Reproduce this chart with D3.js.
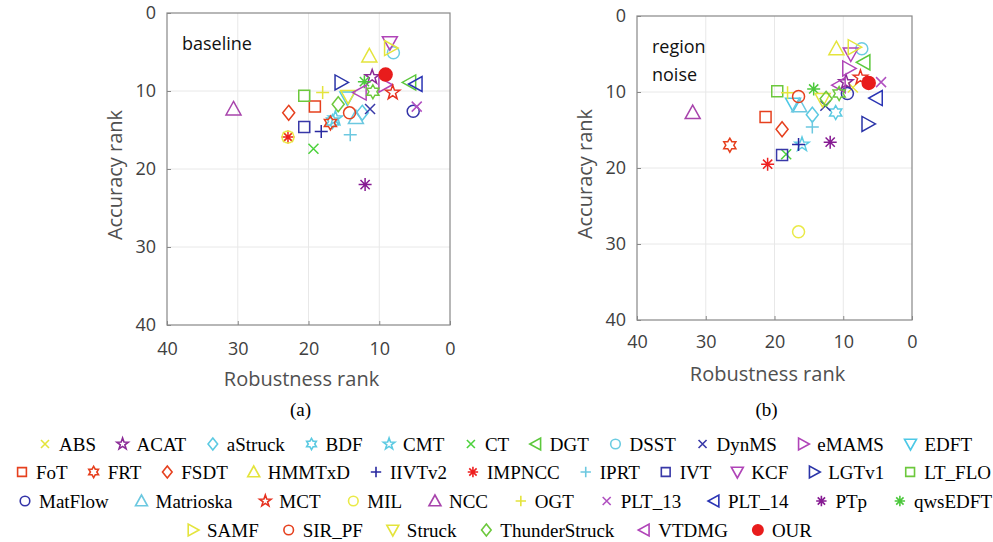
<!DOCTYPE html>
<html>
<head>
<meta charset="utf-8">
<script src="https://cdn.jsdelivr.net/npm/d3@7"></script>
<style>
  body { margin: 0; background: #fff; }
  svg { display: block; }
</style>
</head>
<body>
<svg id="chart" width="993" height="542"></svg>
<script>
// Select the SVG element
const svg = d3.select("#chart");

// Trackers in legend order (last one is the unlabelled green hexagram seen in both plots)
const trackers = ["ABS", "ACAT", "aStruck", "BDF", "CMT", "CT", "DGT", "DSST", "DynMS", "eMAMS", "EDFT",
  "FoT", "FRT", "FSDT", "HMMTxD", "IIVTv2", "IMPNCC", "IPRT", "IVT", "KCF", "LGTv1", "LT_FLO",
  "MatFlow", "Matrioska", "MCT", "MIL", "NCC", "OGT", "PLT_13", "PLT_14", "PTp", "qwsEDFT",
  "SAMF", "SIR_PF", "Struck", "ThunderStruck", "VTDMG", "OUR", ""];

const shapes = ["x", "p", "d", "h", "p", "x", "<", "o", "x", ">", "v",
  "s", "h", "d", "^", "+", "*", "+", "s", "v", ">", "s",
  "o", "^", "p", "o", "^", "+", "x", "<", "*", "*",
  ">", "o", "v", "d", "<", "dot", "h"];

const colors = ["#e4e43c", "#8a2a96", "#5ccae2", "#5ccae2", "#5ccae2", "#4cd23c", "#5cc83c", "#6ccce2", "#3838a8", "#b044b8", "#4cc8e6",
  "#e6401e", "#e6401e", "#e6401e", "#e4e43c", "#2828a0", "#ee2020", "#6cc8e0", "#3838a8", "#b044b8", "#2a34a8", "#6cc83c",
  "#3434a8", "#6cc8e0", "#e6301e", "#eaea48", "#a844ac", "#e4e43c", "#b050c0", "#2a34b4", "#861a92", "#4cc83c",
  "#e4e43c", "#e6401e", "#e4e43c", "#6cc83c", "#b044b8", "#e81c1c", "#6cc83c"];

// baseline experiment: robustness rank / accuracy rank
const baseRob = [22.9, 11.0, 12.4, 16.6, 16.2, 19.3, 5.7, 8.0, 11.3, 9.2, 14.5,
  19.1, 16.9, 22.8, 11.4, 18.2, 22.9, 14.1, 20.6, 8.5, 15.4, 20.6,
  5.2, 13.3, 8.1, 22.9, 30.6, 18.0, 4.7, 4.8, 12.0, 12.1,
  8.4, 14.2, 14.4, 15.8, 12.7, 9.1, 10.9];
const baseAcc = [15.9, 8.2, 12.8, 13.9, 13.5, 17.4, 8.9, 5.1, 12.3, 9.2, 10.9,
  12.0, 14.1, 12.8, 5.5, 15.2, 15.9, 15.6, 14.6, 3.8, 8.9, 10.6,
  12.6, 13.4, 10.2, 15.9, 12.3, 10.2, 12.0, 9.1, 22.0, 8.8,
  4.5, 12.8, 10.7, 11.7, 10.2, 7.9, 10.1];

// region noise experiment
const noiseRob = [8.6, 9.6, 14.5, 11.1, 16.0, 18.3, 7.0, 7.3, 12.6, 9.2, 17.3,
  21.3, 26.5, 18.9, 11.0, 16.5, 21.0, 14.5, 18.9, 8.9, 6.4, 19.6,
  9.4, 16.4, 7.5, 16.5, 31.9, 18.1, 4.5, 5.2, 11.9, 14.3,
  8.4, 16.5, 13.0, 12.5, 10.6, 6.3, 10.6];
const noiseAcc = [9.4, 8.7, 13.0, 12.7, 16.9, 18.2, 6.1, 4.3, 11.8, 6.9, 11.6,
  13.3, 17.0, 14.9, 4.3, 16.9, 19.5, 14.6, 18.3, 5.0, 14.2, 9.9,
  10.2, 11.8, 8.1, 28.4, 12.7, 10.1, 8.7, 10.8, 16.6, 9.6,
  4.1, 10.6, 11.0, 10.9, 9.1, 8.8, 10.2];

const ticks = [0, 10, 20, 30, 40];
const panelNotes = [["baseline"], ["region", "noise"]];
const panelTags = ["(a)", "(b)"];

// Layout of the two panels (pixels)
const panels = [
  {rob: baseRob, acc: baseAcc, left: 167, right: 450, top: 13, bottom: 325, pad: 17},
  {rob: noiseRob, acc: noiseAcc, left: 637, right: 912, top: 16, bottom: 320, pad: 15}
];

const sans = "'Open Sans', sans-serif";
const serif = "'Liberation Serif', 'Times New Roman', serif";

// Marker path, k scales the size
function shapePath(type, k) {
  const star = (n, ro, ri) => {
    let p = [];
    for (let i = 0; i < 2 * n; i++) {
      const r = i % 2 ? ri : ro;
      const a = -Math.PI / 2 + i * Math.PI / n;
      p.push([r * Math.cos(a), r * Math.sin(a)]);
    }
    return "M" + p.map(q => q[0].toFixed(2) + "," + q[1].toFixed(2)).join("L") + "Z";
  };
  const circ = r => `M${r},0A${r},${r} 0 1,1 ${-r},0A${r},${r} 0 1,1 ${r},0Z`;
  switch (type) {
    case "x": { const s = 5 * k; return `M${-s},${-s}L${s},${s}M${-s},${s}L${s},${-s}`; }
    case "+": { const s = 6.5 * k; return `M${-s},0L${s},0M0,${-s}L0,${s}`; }
    case "*": { const s = 6.5 * k, d = 4.6 * k;
      return `M${-s},0L${s},0M0,${-s}L0,${s}M${-d},${-d}L${d},${d}M${-d},${d}L${d},${-d}`; }
    case "o": return circ(6 * k);
    case "dot": return circ(6.5 * k);
    case "s": { const s = 5.5 * k; return `M${-s},${-s}H${s}V${s}H${-s}Z`; }
    case "d": { const w = 6 * k, h = 7.5 * k; return `M0,${-h}L${w},0L0,${h}L${-w},0Z`; }
    case "^": { const s = 7.5 * k; return `M0,${-s}L${s},${s * 0.8}L${-s},${s * 0.8}Z`; }
    case "v": { const s = 7.5 * k; return `M0,${s}L${s},${-s * 0.8}L${-s},${-s * 0.8}Z`; }
    case ">": { const s = 7.5 * k; return `M${s},0L${-s * 0.8},${s}L${-s * 0.8},${-s}Z`; }
    case "<": { const s = 7.5 * k; return `M${-s},0L${s * 0.8},${s}L${s * 0.8},${-s}Z`; }
    case "p": return star(5, 7.5 * k, 3 * k);
    case "h": return star(6, 7 * k, 4 * k);
  }
}

panels.forEach(function(p, pi) {
  const x = d3.scaleLinear().domain([40, 0]).range([p.left, p.right]);
  const y = d3.scaleLinear().domain([0, 40]).range([p.top, p.bottom]);
  const g = svg.append("g");

  // grid
  g.selectAll(".gx").data(ticks.slice(1, 4)).enter().append("line")
    .attr("x1", d => x(d)).attr("x2", d => x(d))
    .attr("y1", p.top).attr("y2", p.bottom)
    .attr("stroke", "#e8e8e8").attr("stroke-width", 1);
  g.selectAll(".gy").data(ticks.slice(1, 4)).enter().append("line")
    .attr("x1", p.left).attr("x2", p.right)
    .attr("y1", d => y(d)).attr("y2", d => y(d))
    .attr("stroke", "#e8e8e8").attr("stroke-width", 1);

  // axes
  const yAxis = d3.axisLeft(y).tickValues(ticks).tickSize(-4).tickSizeOuter(0).tickPadding(11);
  const xAxis = d3.axisBottom(x).tickValues(ticks).tickSize(-4).tickSizeOuter(0).tickPadding(p.pad);
  [g.append("g").attr("transform", `translate(${p.left},0)`).call(yAxis),
   g.append("g").attr("transform", `translate(0,${p.bottom})`).call(xAxis)].forEach(function(a) {
    a.select(".domain").remove();
    a.selectAll("line").attr("stroke", "#888");
    a.selectAll("text").style("font-family", sans).style("font-size", "18px").attr("fill", "#404040");
  });

  // box
  g.append("rect")
    .attr("x", p.left).attr("y", p.top)
    .attr("width", p.right - p.left).attr("height", p.bottom - p.top)
    .attr("fill", "none").attr("stroke", "#888").attr("stroke-width", 1.2);

  // axis titles
  g.append("text")
    .attr("x", (p.left + p.right) / 2 - 7).attr("y", p.bottom + 61)
    .attr("text-anchor", "middle")
    .style("font-family", sans).style("font-size", "20px").attr("fill", "#505050")
    .text("Robustness rank");
  g.append("text")
    .attr("transform", `translate(${p.left - 45},${(p.top + p.bottom) / 2 + 6}) rotate(-90)`)
    .attr("text-anchor", "middle")
    .style("font-family", sans).style("font-size", "20px").attr("fill", "#505050")
    .text("Accuracy rank");

  // in-plot note
  panelNotes[pi].forEach(function(t, i) {
    g.append("text")
      .attr("x", p.left + 15).attr("y", p.top + 37 + i * 28)
      .style("font-family", sans).style("font-size", "18px").attr("fill", "#111")
      .text(t);
  });

  // sub caption
  g.append("text")
    .attr("x", (p.left + p.right) / 2 - 8).attr("y", 416)
    .attr("text-anchor", "middle")
    .style("font-family", serif).style("font-size", "19px").attr("fill", "#000")
    .text(panelTags[pi]);

  // markers
  g.selectAll(".mk").data(trackers).enter().append("path")
    .attr("transform", (d, i) => `translate(${x(p.rob[i])},${y(p.acc[i])})`)
    .attr("d", (d, i) => shapePath(shapes[i], 1))
    .attr("fill", (d, i) => shapes[i] === "dot" ? colors[i] : "none")
    .attr("stroke", (d, i) => colors[i])
    .attr("stroke-width", 1.5);
});

// Legend
const legendRows = [d3.range(0, 11), d3.range(11, 22), d3.range(22, 32), d3.range(32, 38)];
const rowSpan = [[37, 972], [14, 991], [17, 992], [185, 812]];
const rowBase = [451, 479, 508, 537];

legendRows.forEach(function(row, r) {
  const items = row.map(function(i) {
    const it = svg.append("g");
    it.append("path")
      .attr("d", shapePath(shapes[i], 0.8))
      .attr("transform", `translate(8,${-7})`)
      .attr("fill", shapes[i] === "dot" ? colors[i] : "none")
      .attr("stroke", colors[i]).attr("stroke-width", 1.6);
    const t = it.append("text")
      .attr("x", 22).attr("y", 0)
      .style("font-family", serif).style("font-size", "19px").attr("fill", "#000")
      .text(trackers[i]);
    return {g: it, w: 22 + t.node().getComputedTextLength()};
  });
  const total = d3.sum(items, d => d.w);
  const gap = (rowSpan[r][1] - rowSpan[r][0] - total) / (items.length - 1);
  let cx = rowSpan[r][0];
  items.forEach(function(d) {
    d.g.attr("transform", `translate(${cx},${rowBase[r]})`);
    cx += d.w + gap;
  });
});
</script>
</body>
</html>
